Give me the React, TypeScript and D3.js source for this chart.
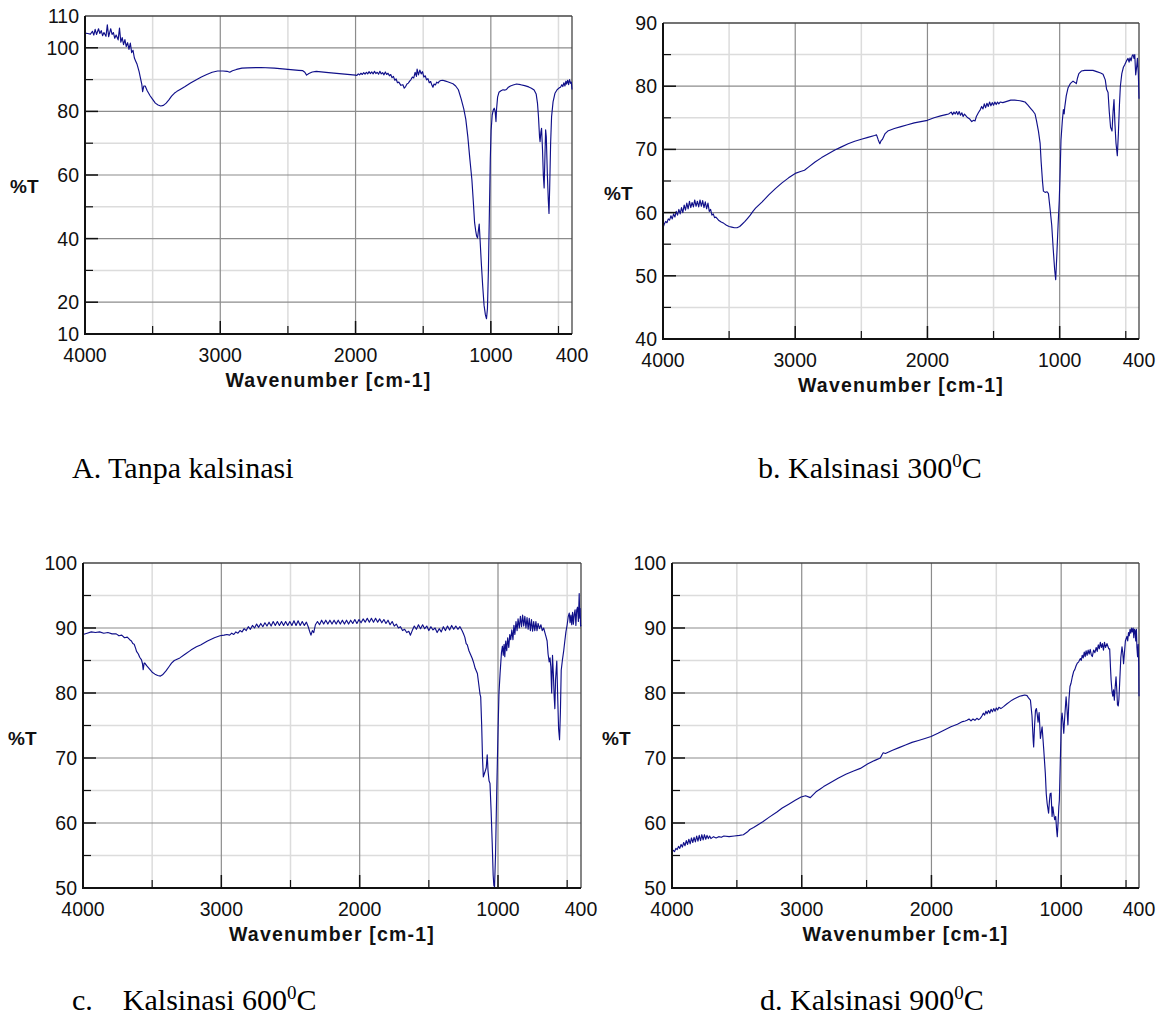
import * as d3 from "d3";

// spectra as [wavenumber, %T] pairs
const specA: [number, number][] = [
  [4000, 104.6], [3980, 104.5], [3960, 104.3], [3945, 105.2], [3935, 104.0], [3925, 105.8], [3915, 104.2],
  [3900, 106.0], [3890, 104.5], [3880, 105.4], [3870, 103.8], [3860, 104.8], [3845, 103.6], [3835, 107.2],
  [3825, 103.5], [3810, 106.0], [3800, 104.2], [3790, 104.8], [3780, 103.0], [3770, 104.0], [3755, 102.5],
  [3745, 106.2], [3735, 101.8], [3725, 103.2], [3715, 101.0], [3705, 102.6], [3695, 100.4], [3685, 101.6],
  [3675, 99.5], [3665, 101.5], [3655, 98.5], [3645, 99.2], [3635, 96.8], [3625, 95.8], [3615, 94.8],
  [3600, 92.5], [3590, 90.5], [3580, 88.5], [3574, 86.2], [3565, 88.0], [3555, 88.0], [3540, 86.5],
  [3520, 85.0], [3500, 83.8], [3480, 82.6], [3460, 82.0], [3440, 81.7], [3420, 81.9], [3400, 82.6],
  [3380, 83.6], [3360, 84.8], [3340, 85.7], [3320, 86.3], [3300, 86.8], [3260, 87.8], [3220, 88.9],
  [3180, 89.9], [3140, 90.8], [3100, 91.6], [3060, 92.3], [3020, 92.7], [2980, 92.7], [2950, 92.6],
  [2930, 92.3], [2910, 92.8], [2880, 93.2], [2840, 93.6], [2800, 93.7], [2700, 93.8], [2600, 93.6],
  [2500, 93.2], [2420, 92.9], [2390, 92.8], [2375, 92.3], [2362, 91.4], [2345, 91.9], [2320, 92.4],
  [2290, 92.6], [2200, 92.2], [2100, 91.8], [2000, 91.4], [1990, 91.3], [1980, 91.8], [1970, 91.5],
  [1960, 92.0], [1950, 91.6], [1940, 92.2], [1930, 91.7], [1920, 92.3], [1910, 91.8], [1900, 92.5],
  [1890, 91.9], [1880, 92.4], [1870, 91.8], [1860, 92.6], [1850, 91.9], [1840, 92.3], [1830, 91.7],
  [1820, 92.6], [1810, 91.8], [1800, 92.2], [1790, 91.5], [1780, 92.4], [1770, 91.6], [1760, 92.0],
  [1750, 91.2], [1740, 91.6], [1730, 90.6], [1720, 91.0], [1710, 89.8], [1700, 90.2], [1690, 89.0],
  [1680, 89.2], [1665, 88.2], [1650, 88.4], [1640, 87.3], [1630, 87.8], [1620, 88.6], [1610, 88.9],
  [1600, 89.5], [1590, 90.0], [1580, 90.8], [1570, 90.5], [1560, 92.3], [1550, 91.0], [1545, 93.3],
  [1535, 91.5], [1525, 93.0], [1515, 91.8], [1505, 92.5], [1495, 90.8], [1485, 91.2], [1475, 89.9],
  [1465, 90.3], [1455, 89.0], [1445, 89.4], [1435, 88.2], [1428, 87.6], [1420, 88.6], [1410, 88.3],
  [1400, 89.2], [1390, 88.9], [1380, 89.5], [1370, 89.7], [1355, 89.8], [1340, 89.6], [1320, 89.3],
  [1300, 89.0], [1280, 88.7], [1260, 88.0], [1240, 86.8], [1220, 84.0], [1200, 80.8], [1185, 77.5],
  [1170, 72.0], [1155, 65.0], [1140, 58.5], [1130, 52.0], [1120, 45.0], [1112, 42.5], [1105, 40.8],
  [1098, 40.2], [1092, 42.5], [1086, 44.6], [1080, 40.0], [1070, 32.0], [1060, 25.0], [1050, 19.0],
  [1040, 16.0], [1032, 14.8], [1025, 18.0], [1018, 30.0], [1010, 50.0], [1004, 65.0], [998, 74.0],
  [990, 78.8], [982, 80.4], [975, 81.0], [968, 80.0], [962, 76.8], [958, 80.5], [950, 84.5], [940, 86.0],
  [925, 86.5], [910, 86.8], [895, 86.7], [884, 86.9], [870, 87.6], [855, 88.0], [835, 88.3], [810, 88.6],
  [780, 88.4], [750, 88.1], [720, 87.7], [700, 87.3], [680, 86.7], [665, 85.5], [655, 82.5], [648, 78.5],
  [640, 72.0], [636, 70.5], [630, 73.5], [625, 74.7], [618, 68.0], [612, 60.0], [606, 55.9], [600, 66.0],
  [595, 74.2], [590, 72.0], [582, 60.0], [575, 52.0], [570, 47.9], [565, 56.0], [558, 70.0], [551, 78.3],
  [540, 83.0], [526, 85.7], [510, 86.8], [495, 87.4], [485, 87.6], [475, 88.4], [468, 87.8], [460, 89.0],
  [452, 88.0], [445, 89.5], [440, 88.6], [432, 89.8], [425, 88.4], [418, 90.0], [410, 88.8], [405, 89.2],
  [400, 86.9],
];

const specB: [number, number][] = [
  [4000, 57.6], [3990, 58.2], [3980, 58.6], [3970, 58.4], [3960, 59.0], [3950, 58.8], [3940, 59.5],
  [3930, 59.0], [3920, 59.8], [3910, 59.3], [3900, 60.2], [3890, 59.6], [3880, 60.5], [3870, 59.8],
  [3860, 60.8], [3850, 60.0], [3840, 61.2], [3830, 60.4], [3820, 61.5], [3810, 60.6], [3800, 61.8],
  [3790, 60.8], [3780, 61.6], [3770, 60.9], [3760, 62.0], [3750, 61.0], [3740, 61.8], [3730, 60.9],
  [3720, 62.0], [3710, 61.0], [3700, 61.9], [3690, 60.8], [3680, 61.7], [3670, 60.6], [3660, 61.5],
  [3650, 60.2], [3640, 60.5], [3630, 59.6], [3620, 59.8], [3610, 59.2], [3600, 59.3], [3580, 58.8],
  [3560, 58.5], [3540, 58.3], [3520, 58.0], [3500, 57.8], [3480, 57.7], [3460, 57.6], [3440, 57.6],
  [3420, 57.8], [3400, 58.2], [3380, 58.6], [3360, 59.1], [3340, 59.6], [3320, 60.2], [3300, 60.7],
  [3250, 61.7], [3200, 62.8], [3150, 63.8], [3100, 64.7], [3050, 65.5], [3000, 66.2], [2960, 66.5],
  [2930, 66.7], [2900, 67.2], [2850, 68.0], [2800, 68.7], [2750, 69.3], [2700, 69.9], [2650, 70.4],
  [2600, 70.9], [2550, 71.3], [2500, 71.6], [2450, 71.9], [2400, 72.2], [2385, 72.3], [2372, 71.5],
  [2360, 70.9], [2350, 71.4], [2340, 71.6], [2320, 72.5], [2300, 72.9], [2250, 73.3], [2200, 73.6],
  [2150, 73.9], [2100, 74.2], [2050, 74.4], [2000, 74.6], [1950, 75.0], [1900, 75.3], [1860, 75.5],
  [1840, 75.6], [1820, 75.9], [1810, 75.5], [1800, 75.9], [1790, 75.6], [1780, 76.0], [1770, 75.5],
  [1760, 76.0], [1750, 75.4], [1740, 75.8], [1730, 75.2], [1720, 75.6], [1700, 75.1], [1680, 74.8],
  [1665, 74.4], [1650, 74.6], [1640, 74.5], [1630, 75.2], [1615, 75.8], [1600, 76.3], [1590, 76.8],
  [1580, 76.4], [1570, 77.2], [1560, 76.6], [1550, 77.3], [1540, 76.8], [1530, 77.5], [1520, 76.9],
  [1510, 77.4], [1500, 77.0], [1490, 77.5], [1480, 77.1], [1470, 77.5], [1460, 77.2], [1450, 77.5],
  [1430, 77.4], [1400, 77.6], [1370, 77.8], [1340, 77.8], [1300, 77.7], [1280, 77.6], [1262, 77.5],
  [1240, 77.0], [1220, 76.5], [1200, 76.0], [1186, 75.6], [1175, 74.5], [1160, 72.8], [1148, 71.0],
  [1140, 68.0], [1130, 65.0], [1123, 63.4], [1110, 63.2], [1095, 63.3], [1085, 63.0], [1072, 60.5],
  [1060, 58.0], [1048, 54.0], [1038, 51.0], [1030, 49.4], [1022, 53.0], [1012, 58.0], [1003, 62.0],
  [995, 67.5], [990, 71.5], [980, 74.5], [972, 76.3], [966, 75.6], [962, 76.6], [950, 78.5], [937, 79.7],
  [920, 80.4], [899, 80.8], [885, 80.6], [874, 80.4], [865, 81.3], [855, 82.0], [836, 82.4], [810, 82.5],
  [780, 82.5], [748, 82.5], [720, 82.3], [690, 82.1], [672, 81.9], [655, 81.0], [645, 79.5], [634, 79.0],
  [625, 76.0], [615, 73.5], [604, 72.9], [596, 76.0], [589, 77.9], [582, 74.0], [574, 71.0], [564, 69.0],
  [556, 72.5], [548, 77.0], [541, 80.0], [530, 82.0], [518, 83.0], [508, 83.4], [495, 84.0], [483, 84.4],
  [475, 83.8], [468, 84.5], [460, 84.0], [452, 84.8], [445, 85.0], [438, 84.4], [432, 85.0], [425, 81.8],
  [418, 83.0], [412, 84.4], [405, 82.0], [400, 78.0],
];

const specC: [number, number][] = [
  [4000, 89.0], [3970, 89.2], [3940, 89.4], [3910, 89.3], [3880, 89.4], [3850, 89.2], [3820, 89.3],
  [3790, 89.1], [3760, 89.1], [3740, 88.8], [3720, 88.9], [3700, 88.5], [3680, 88.6], [3662, 88.2],
  [3650, 88.0], [3640, 87.6], [3630, 87.5], [3620, 86.9], [3613, 86.4], [3600, 86.0], [3590, 85.5],
  [3577, 85.1], [3570, 84.5], [3565, 83.6], [3558, 84.6], [3553, 84.6], [3540, 84.2], [3520, 83.7],
  [3500, 83.2], [3480, 82.9], [3460, 82.7], [3440, 82.6], [3425, 82.8], [3400, 83.4], [3380, 84.0],
  [3360, 84.6], [3340, 85.0], [3320, 85.2], [3300, 85.4], [3260, 86.0], [3220, 86.6], [3180, 87.1],
  [3150, 87.4], [3100, 88.0], [3050, 88.5], [3010, 88.8], [2980, 88.9], [2960, 89.0], [2940, 88.9],
  [2925, 89.2], [2910, 89.0], [2895, 89.4], [2880, 89.2], [2865, 89.6], [2850, 89.4], [2835, 89.9],
  [2820, 89.6], [2805, 90.2], [2790, 89.8], [2775, 90.4], [2760, 90.0], [2745, 90.6], [2730, 90.1],
  [2715, 90.7], [2700, 90.2], [2685, 90.8], [2670, 90.3], [2655, 90.9], [2640, 90.3], [2625, 91.0],
  [2610, 90.4], [2595, 91.0], [2580, 90.4], [2565, 91.0], [2550, 90.4], [2535, 91.0], [2520, 90.4],
  [2505, 91.0], [2490, 90.4], [2475, 91.1], [2460, 90.4], [2445, 91.1], [2430, 90.4], [2415, 91.0],
  [2400, 90.4], [2385, 90.9], [2372, 90.2], [2362, 89.5], [2352, 88.9], [2342, 89.6], [2332, 89.3],
  [2320, 90.5], [2305, 91.0], [2290, 90.5], [2275, 91.2], [2260, 90.6], [2245, 91.2], [2230, 90.6],
  [2215, 91.2], [2200, 90.6], [2185, 91.2], [2170, 90.6], [2155, 91.2], [2140, 90.6], [2125, 91.2],
  [2110, 90.6], [2095, 91.2], [2080, 90.6], [2065, 91.2], [2050, 90.7], [2035, 91.3], [2020, 90.7],
  [2005, 91.3], [1990, 90.8], [1975, 91.4], [1960, 90.9], [1945, 91.5], [1930, 90.9], [1915, 91.5],
  [1900, 90.9], [1885, 91.5], [1870, 90.9], [1855, 91.4], [1840, 90.8], [1825, 91.3], [1810, 90.7],
  [1795, 91.2], [1780, 90.5], [1765, 91.0], [1750, 90.3], [1735, 90.6], [1720, 90.0], [1705, 90.2],
  [1690, 89.6], [1675, 89.8], [1660, 89.3], [1645, 89.5], [1633, 88.9], [1620, 89.6], [1605, 90.3],
  [1590, 89.8], [1575, 90.5], [1560, 89.9], [1545, 90.5], [1530, 89.9], [1515, 90.3], [1500, 89.6],
  [1485, 90.2], [1470, 89.7], [1455, 90.0], [1440, 89.3], [1425, 89.9], [1410, 89.4], [1395, 90.2],
  [1380, 89.6], [1365, 90.3], [1350, 89.7], [1335, 90.4], [1320, 89.8], [1305, 90.3], [1290, 89.8],
  [1275, 90.2], [1260, 89.6], [1251, 89.2], [1240, 88.6], [1230, 87.6], [1222, 87.4], [1210, 86.5],
  [1200, 86.0], [1186, 85.3], [1175, 84.6], [1165, 83.8], [1149, 83.0], [1140, 81.5], [1130, 79.8],
  [1125, 79.4], [1118, 75.0], [1112, 70.0], [1106, 67.1], [1095, 67.8], [1085, 68.5], [1078, 70.5],
  [1072, 68.0], [1065, 66.5], [1058, 66.1], [1050, 62.0], [1042, 57.0], [1035, 52.0], [1030, 50.4],
  [1025, 50.2], [1018, 55.0], [1010, 64.0], [1000, 74.0], [993, 80.0], [985, 83.0], [975, 86.2],
  [968, 87.2], [962, 85.8], [956, 87.5], [951, 85.6], [944, 88.0], [937, 86.5], [930, 88.5], [922, 87.0],
  [915, 89.0], [908, 88.2], [900, 89.7], [892, 88.2], [885, 90.4], [878, 89.0], [870, 91.0], [862, 89.6],
  [855, 91.4], [846, 90.0], [838, 91.8], [830, 90.2], [822, 92.0], [814, 90.3], [806, 91.8], [798, 90.0],
  [790, 91.6], [782, 89.8], [774, 91.5], [766, 89.6], [758, 91.3], [750, 89.5], [742, 91.0], [734, 89.6],
  [726, 91.0], [718, 89.6], [710, 90.7], [700, 89.9], [690, 90.5], [680, 89.6], [670, 90.0], [660, 89.2],
  [652, 88.6], [645, 88.0], [638, 86.0], [630, 84.8], [624, 85.4], [618, 84.0], [612, 80.0], [606, 85.8],
  [600, 83.0], [594, 79.5], [589, 77.6], [584, 82.0], [575, 84.9], [568, 79.0], [562, 74.5], [555, 72.8],
  [549, 77.0], [543, 83.5], [533, 85.3], [525, 86.5], [517, 88.0], [509, 89.4], [500, 90.5], [492, 91.8],
  [485, 92.3], [479, 90.8], [473, 92.0], [467, 90.5], [461, 92.4], [455, 90.6], [449, 92.1], [443, 92.8],
  [437, 90.4], [431, 92.8], [425, 93.2], [419, 91.0], [413, 95.3], [409, 91.5], [406, 93.0], [403, 90.3],
  [400, 90.5],
];

const specD: [number, number][] = [
  [4000, 55.5], [3990, 55.8], [3980, 55.6], [3970, 56.1], [3960, 55.9], [3950, 56.4], [3940, 56.1],
  [3930, 56.7], [3920, 56.3], [3910, 57.0], [3900, 56.5], [3890, 57.3], [3880, 56.7], [3870, 57.5],
  [3860, 56.8], [3850, 57.7], [3840, 57.0], [3830, 57.8], [3820, 57.1], [3810, 58.0], [3800, 57.2],
  [3790, 58.1], [3780, 57.3], [3770, 58.2], [3760, 57.4], [3750, 58.2], [3740, 57.5], [3730, 58.1],
  [3720, 57.6], [3710, 58.0], [3700, 57.6], [3680, 57.9], [3660, 57.7], [3640, 57.9], [3620, 57.8],
  [3600, 58.0], [3560, 57.9], [3520, 58.0], [3480, 58.1], [3450, 58.2], [3420, 58.6], [3400, 59.0],
  [3371, 59.3], [3300, 60.2], [3250, 60.9], [3191, 61.7], [3150, 62.3], [3100, 62.9], [3050, 63.5],
  [3005, 64.0], [2970, 64.2], [2934, 63.9], [2915, 64.3], [2890, 64.8], [2860, 65.2], [2831, 65.6],
  [2780, 66.2], [2720, 66.9], [2660, 67.5], [2600, 68.0], [2548, 68.4], [2490, 69.1], [2440, 69.6],
  [2394, 70.0], [2381, 70.5], [2372, 70.8], [2355, 70.7], [2300, 71.2], [2250, 71.6], [2200, 72.0],
  [2150, 72.4], [2100, 72.7], [2050, 73.0], [2003, 73.3], [1950, 73.8], [1900, 74.3], [1850, 74.8],
  [1800, 75.2], [1760, 75.6], [1740, 75.7], [1726, 75.8], [1710, 76.0], [1695, 75.7], [1680, 76.0],
  [1665, 75.8], [1650, 76.1], [1635, 75.9], [1623, 76.1], [1610, 76.5], [1600, 76.9], [1590, 76.6],
  [1580, 77.2], [1571, 76.8], [1560, 77.3], [1550, 76.9], [1540, 77.5], [1530, 77.1], [1520, 77.6],
  [1510, 77.2], [1500, 77.7], [1490, 77.4], [1480, 77.8], [1465, 77.6], [1444, 77.9], [1420, 78.3],
  [1400, 78.6], [1380, 78.9], [1360, 79.1], [1340, 79.3], [1320, 79.5], [1300, 79.6], [1280, 79.7],
  [1263, 79.6], [1250, 79.2], [1237, 78.9], [1225, 76.5], [1215, 72.5], [1212, 71.7], [1205, 75.0],
  [1198, 77.3], [1191, 77.6], [1185, 76.8], [1178, 75.5], [1170, 77.0], [1160, 73.0], [1153, 74.0],
  [1147, 74.8], [1135, 71.5], [1122, 67.6], [1115, 64.5], [1108, 63.0], [1097, 61.5], [1090, 63.5],
  [1085, 64.5], [1078, 64.6], [1070, 61.0], [1064, 62.5], [1058, 61.5], [1050, 60.5], [1042, 61.0],
  [1036, 59.2], [1030, 57.9], [1024, 60.0], [1018, 62.5], [1014, 63.5], [1006, 70.0], [998, 76.0],
  [993, 76.9], [986, 75.5], [980, 73.8], [972, 76.5], [962, 79.4], [955, 77.5], [948, 75.1], [940, 79.0],
  [932, 81.0], [924, 81.5], [914, 82.5], [904, 83.3], [895, 83.6], [885, 84.2], [875, 84.6], [865, 84.8],
  [852, 85.3], [845, 85.0], [838, 85.8], [830, 85.4], [822, 86.3], [815, 85.6], [808, 86.5], [800, 85.8],
  [792, 86.6], [784, 86.0], [776, 86.7], [768, 85.9], [760, 85.6], [750, 86.6], [740, 86.2], [730, 87.0],
  [722, 86.4], [714, 87.4], [706, 86.8], [698, 87.8], [690, 87.0], [682, 87.6], [674, 86.6], [666, 87.8],
  [658, 87.0], [647, 87.6], [640, 87.2], [633, 86.8], [626, 86.8], [620, 84.0], [615, 82.0], [608, 80.2],
  [602, 79.5], [596, 80.5], [590, 78.9], [584, 80.8], [577, 82.5], [570, 80.0], [566, 78.2], [560, 78.0],
  [555, 79.0], [548, 82.0], [540, 85.5], [531, 87.1], [525, 86.2], [519, 84.5], [513, 86.0], [505, 88.0],
  [500, 88.3], [493, 88.7], [487, 88.0], [481, 89.3], [475, 88.8], [469, 89.8], [463, 89.2], [457, 90.0],
  [451, 89.4], [445, 90.0], [440, 88.5], [435, 89.8], [430, 89.6], [425, 88.0], [420, 89.8], [416, 87.0],
  [411, 85.6], [406, 87.5], [402, 84.0], [400, 79.5],
];

const xLabels = [4000, 3000, 2000, 1000, 400];
const xMajor = [3000, 2000, 1000];
const xMinor = [3500, 2500, 1500, 500];

const yLabelsA = [10, 20, 40, 60, 80, 100, 110];
const yMajorA = [20, 40, 60, 80, 100];
const yMinorA = [30, 50, 70, 90];
const yLabelsB = [40, 50, 60, 70, 80, 90];
const yMajorB = [50, 60, 70, 80];
const yMinorB = [45, 55, 65, 75, 85];
const yLabelsCD = [50, 60, 70, 80, 90, 100];
const yMajorCD = [60, 70, 80, 90];
const yMinorCD = [55, 65, 75, 85, 95];

const panels = [
  { data: specA, x0: 85, x1: 572, y0: 16, y1: 334, yDom: [10, 110], yLabels: yLabelsA, yMajor: yMajorA, yMinor: yMinorA, labelX: 10, labelY: 193 },
  { data: specB, x0: 663, x1: 1139, y0: 23, y1: 339, yDom: [40, 90], yLabels: yLabelsB, yMajor: yMajorB, yMinor: yMinorB, labelX: 604, labelY: 200 },
  { data: specC, x0: 83, x1: 581, y0: 563, y1: 888, yDom: [50, 100], yLabels: yLabelsCD, yMajor: yMajorCD, yMinor: yMinorCD, labelX: 8, labelY: 745 },
  { data: specD, x0: 672, x1: 1139, y0: 563, y1: 888, yDom: [50, 100], yLabels: yLabelsCD, yMajor: yMajorCD, yMinor: yMinorCD, labelX: 602, labelY: 745 },
];

const captions = [
  { x: 72, y: 478, text: "A. Tanpa kalsinasi", deg: "" },
  { x: 758, y: 478, text: "b. Kalsinasi 300", deg: "C" },
  { x: 72, y: 1010, text: "c.\u00a0\u00a0\u00a0 Kalsinasi 600", deg: "C" },
  { x: 760, y: 1010, text: "d. Kalsinasi 900", deg: "C" },
];

const lineColor = "#10108a";
const font = "Liberation Sans, Arial, sans-serif";

const Panel = ({ p }) => {
  const x = d3.scaleLinear().domain([4000, 400]).range([p.x0, p.x1]);
  const y = d3.scaleLinear().domain(p.yDom).range([p.y1, p.y0]);
  const line = d3
    .line<[number, number]>()
    .x((d) => x(d[0]))
    .y((d) => y(d[1]));

  return (
    <g>
      {/* grid */}
      {xMinor.map((v) => (
        <line key={"xm" + v} x1={x(v)} x2={x(v)} y1={p.y0} y2={p.y1} stroke="#dcdcdc" strokeWidth={1.5} />
      ))}
      {p.yMinor.map((v) => (
        <line key={"ym" + v} x1={p.x0} x2={p.x1} y1={y(v)} y2={y(v)} stroke="#dcdcdc" strokeWidth={1.5} />
      ))}
      {xMajor.map((v) => (
        <line key={"xM" + v} x1={x(v)} x2={x(v)} y1={p.y0} y2={p.y1} stroke="#8c8c8c" strokeWidth={1.2} />
      ))}
      {p.yMajor.map((v) => (
        <line key={"yM" + v} x1={p.x0} x2={p.x1} y1={y(v)} y2={y(v)} stroke="#8c8c8c" strokeWidth={1.2} />
      ))}

      {/* frame */}
      <line x1={p.x0} x2={p.x1} y1={p.y0} y2={p.y0} stroke="#444" strokeWidth={1.3} />
      <line x1={p.x1} x2={p.x1} y1={p.y0} y2={p.y1} stroke="#444" strokeWidth={1.3} />

      <path d={line(p.data) ?? ""} fill="none" stroke={lineColor} strokeWidth={1.15} strokeLinejoin="round" />

      <line x1={p.x0} x2={p.x0} y1={p.y0} y2={p.y1 + 1} stroke="#111" strokeWidth={2} />
      <line x1={p.x0 - 1} x2={p.x1} y1={p.y1} y2={p.y1} stroke="#111" strokeWidth={2} />

      {/* ticks */}
      {p.yMajor.map((v) => (
        <line key={"yt" + v} x1={p.x0} x2={p.x0 + 13} y1={y(v)} y2={y(v)} stroke="#111" strokeWidth={1.5} />
      ))}
      {p.yMinor.map((v) => (
        <line key={"yt2" + v} x1={p.x0} x2={p.x0 + 8} y1={y(v)} y2={y(v)} stroke="#111" strokeWidth={1.2} />
      ))}
      {xMajor.map((v) => (
        <line key={"xt" + v} x1={x(v)} x2={x(v)} y1={p.y1} y2={p.y1 - 13} stroke="#111" strokeWidth={1.5} />
      ))}
      {xMinor.map((v) => (
        <line key={"xt2" + v} x1={x(v)} x2={x(v)} y1={p.y1} y2={p.y1 - 8} stroke="#111" strokeWidth={1.2} />
      ))}

      {/* tick labels */}
      {p.yLabels.map((v) => (
        <text key={"yl" + v} x={p.x0 - 6} y={y(v) + 7} textAnchor="end" fontFamily={font} fontSize={19.5} fill="#111">
          {v}
        </text>
      ))}
      {xLabels.map((v) => (
        <text key={"xl" + v} x={x(v)} y={p.y1 + 28} textAnchor="middle" fontFamily={font} fontSize={19.5} fill="#111">
          {v}
        </text>
      ))}

      <text x={(p.x0 + p.x1) / 2} y={p.y1 + 53} textAnchor="middle" fontFamily={font} fontSize={19.5} fontWeight="bold" letterSpacing={1.2} fill="#111">
        Wavenumber [cm-1]
      </text>
      <text x={p.labelX} y={p.labelY} fontFamily={font} fontSize={19} fontWeight="bold" fill="#111">
        %T
      </text>
    </g>
  );
};

export default function App() {
  return (
    <div style={{ position: "absolute", left: 0, top: 0 }}>
      <svg width={1170} height={1025} viewBox="0 0 1170 1025" style={{ display: "block", background: "#fff" }}>
        {panels.map((p, i) => (
          <Panel key={i} p={p} />
        ))}
        {captions.map((c, i) => (
          <text key={i} x={c.x} y={c.y} fontFamily="Liberation Serif, Times New Roman, serif" fontSize={30} fill="#000">
            {c.text}
            {c.deg && (
              <>
                <tspan dy={-11} fontSize={19}>0</tspan>
                <tspan dy={11}>{c.deg}</tspan>
              </>
            )}
          </text>
        ))}
      </svg>
    </div>
  );
}
